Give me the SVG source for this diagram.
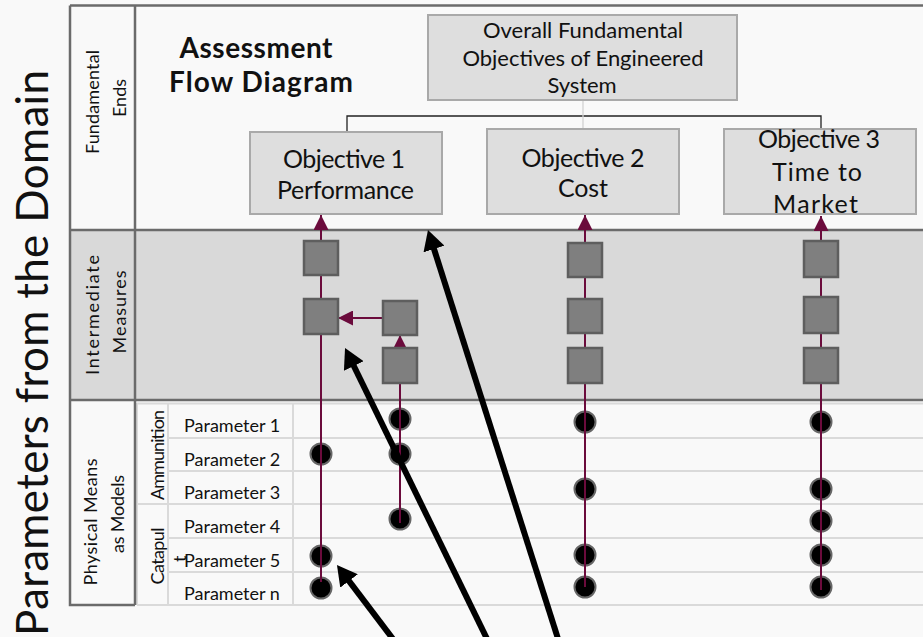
<svg xmlns="http://www.w3.org/2000/svg" width="923" height="637" viewBox="0 0 923 637">
<style>
text{font-family:Lato,"Open Sans","Liberation Sans",sans-serif;fill:#111}
.frame{stroke:#6b6b6b;stroke-width:2.5;fill:none}
.grid{stroke:#dadada;stroke-width:2;fill:none}
.box{fill:#dedede;stroke:#a9a9a9;stroke-width:2}
.obj{font-size:25px;text-anchor:middle}
.ov{font-size:22px;text-anchor:middle}
.lbl{font-size:18px;text-anchor:middle}
.par{font-size:18px}
.flow{stroke:#6b0b3c;stroke-width:2;fill:none}
.sq{fill:#7f7f7f;stroke:#5e5e5e;stroke-width:2.5}
.dot{fill:#000;stroke:#666;stroke-width:2}
.ann{stroke:#000;stroke-width:6;fill:none}
</style>
<defs>
<marker id="arr" viewBox="0 0 10 10" refX="10" refY="5" markerWidth="15" markerHeight="15" markerUnits="userSpaceOnUse" orient="auto"><path d="M0,0 L10,5 L0,10 z" fill="#6b0b3c"/></marker>
<marker id="arrS" viewBox="0 0 10 10" refX="10" refY="5" markerWidth="12" markerHeight="12" markerUnits="userSpaceOnUse" orient="auto"><path d="M0,0 L10,5 L0,10 z" fill="#6b0b3c"/></marker>
<marker id="big" viewBox="0 0 20 22" refX="8" refY="11" markerWidth="20" markerHeight="22" markerUnits="userSpaceOnUse" orient="auto"><path d="M0,0 L20,11 L0,22 z" fill="#000"/></marker>
</defs>
<rect width="923" height="637" fill="#f9f9f9"/>
<rect x="70" y="230" width="853" height="170" fill="#d9d9d9"/>
<g id="table">
<path class="grid" d="M137,403.5H923M168,438H923M168,471H923M137,504H923M168,538H923M168,572H923M137,605H923M137,403V605M168,403V605M293,403V605"/>
</g>
<g id="frame">
<path class="frame" d="M70,5.5H923M70,230H923M70,400H923M70,5.5V605H135M135,5.5V605"/>
</g>
<text transform="translate(48,636) rotate(-90)" font-size="44" textLength="566" lengthAdjust="spacing">Parameters from the Domain</text>
<g id="row-labels">
<text class="lbl" transform="translate(99,102) rotate(-90)" textLength="104" lengthAdjust="spacing">Fundamental</text>
<text class="lbl" transform="translate(126,98) rotate(-90)" textLength="38" lengthAdjust="spacing">Ends</text>
<text class="lbl" transform="translate(99,315) rotate(-90)" textLength="120" lengthAdjust="spacing">Intermediate</text>
<text class="lbl" transform="translate(126,312) rotate(-90)" textLength="83" lengthAdjust="spacing">Measures</text>
<text class="lbl" transform="translate(97,522) rotate(-90)" textLength="127" lengthAdjust="spacing">Physical Means</text>
<text class="lbl" transform="translate(124,514) rotate(-90)" textLength="78" lengthAdjust="spacing">as Models</text>
<text class="lbl" transform="translate(164,455) rotate(-90)" textLength="90" lengthAdjust="spacing">Ammunition</text>
<text class="lbl" transform="translate(164,556) rotate(-90)" textLength="57" lengthAdjust="spacing">Catapul</text>
<text class="par" transform="translate(186,562) rotate(-90)">t</text>
</g>
<g id="parameters">
<text class="par" x="184" y="432">Parameter 1</text>
<text class="par" x="184" y="466">Parameter 2</text>
<text class="par" x="184" y="499">Parameter 3</text>
<text class="par" x="184" y="533">Parameter 4</text>
<text class="par" x="184" y="567">Parameter 5</text>
<text class="par" x="184" y="600">Parameter n</text>
</g>
<g id="title">
<text x="256" y="58" font-size="28" font-weight="bold" text-anchor="middle" textLength="153" lengthAdjust="spacing">Assessment</text>
<text x="261" y="92" font-size="28" font-weight="bold" text-anchor="middle" textLength="184" lengthAdjust="spacing">Flow Diagram</text>
</g>
<g id="hierarchy">
<path d="M347,132V116H821V129" stroke="#222" stroke-width="1.3" fill="none"/>
<path d="M583,100V129" stroke="#d2d2d2" stroke-width="1.3" fill="none"/>
</g>
<g id="overall">
<rect class="box" x="428" y="15" width="309" height="85"/>
<text class="ov" x="583" y="38" textLength="200" lengthAdjust="spacing">Overall Fundamental</text>
<text class="ov" x="583" y="66" textLength="241" lengthAdjust="spacing">Objectives of Engineered</text>
<text class="ov" x="582" y="93" textLength="69" lengthAdjust="spacing">System</text>
</g>
<g id="obj1">
<rect class="box" x="250" y="132" width="192" height="82"/>
<text class="obj" x="344" y="168" textLength="122" lengthAdjust="spacing">Objective 1</text>
<text class="obj" x="345.5" y="199" textLength="137" lengthAdjust="spacing">Performance</text>
</g>
<g id="obj2">
<rect class="box" x="487" y="129" width="192" height="85"/>
<text class="obj" x="583" y="167" textLength="123" lengthAdjust="spacing">Objective 2</text>
<text class="obj" x="583" y="197" textLength="50" lengthAdjust="spacing">Cost</text>
</g>
<g id="obj3">
<rect class="box" x="724" y="129" width="192" height="85"/>
<text class="obj" x="819" y="148" textLength="122" lengthAdjust="spacing">Objective 3</text>
<text class="obj" x="817" y="181" textLength="90" lengthAdjust="spacing">Time to</text>
<text class="obj" x="815.5" y="213" textLength="85" lengthAdjust="spacing">Market</text>
</g>
<g id="dots">
<circle class="dot" cx="321" cy="454" r="10.5"/>
<circle class="dot" cx="321" cy="556" r="10.5"/>
<circle class="dot" cx="321" cy="588" r="10.5"/>
<circle class="dot" cx="400" cy="419" r="10.5"/>
<circle class="dot" cx="400" cy="454" r="10.5"/>
<circle class="dot" cx="400" cy="519" r="10.5"/>
<circle class="dot" cx="585" cy="422" r="10.5"/>
<circle class="dot" cx="585" cy="489" r="10.5"/>
<circle class="dot" cx="585" cy="555" r="10.5"/>
<circle class="dot" cx="585" cy="587" r="10.5"/>
<circle class="dot" cx="821" cy="422" r="10.5"/>
<circle class="dot" cx="821" cy="489" r="10.5"/>
<circle class="dot" cx="821" cy="521" r="10.5"/>
<circle class="dot" cx="821" cy="555" r="10.5"/>
<circle class="dot" cx="821" cy="587" r="10.5"/>
</g>
<g id="connectors">
<path class="flow" d="M321,582V215" marker-end="url(#arr)"/>
<path class="flow" d="M400,523V335" marker-end="url(#arrS)"/>
<path class="flow" d="M383,318H338" marker-end="url(#arr)"/>
<path class="flow" d="M585,587V215" marker-end="url(#arr)"/>
<path class="flow" d="M821,590V216" marker-end="url(#arr)"/>
</g>
<g id="measures">
<rect id="m1a" class="sq" x="304" y="241" width="34" height="34"/>
<rect id="m1b" class="sq" x="304" y="299" width="34" height="35"/>
<rect id="m1c" class="sq" x="383" y="301" width="34" height="34"/>
<rect id="m1d" class="sq" x="383" y="348" width="34" height="35"/>
<rect id="m2a" class="sq" x="568" y="243" width="34" height="34"/>
<rect id="m2b" class="sq" x="568" y="299" width="34" height="34"/>
<rect id="m2c" class="sq" x="568" y="348" width="34" height="35"/>
<rect id="m3a" class="sq" x="804" y="241" width="34" height="36"/>
<rect id="m3b" class="sq" x="804" y="297" width="34" height="36"/>
<rect id="m3c" class="sq" x="804" y="348" width="34" height="35"/>
</g>
<g id="annotations">
<path class="ann" d="M396,643L344.2,574.6" marker-end="url(#big)"/>
<path class="ann" d="M490,645L350.3,358.8" marker-end="url(#big)"/>
<path class="ann" d="M560,645L431.6,241.4" marker-end="url(#big)"/>
</g>
</svg>
